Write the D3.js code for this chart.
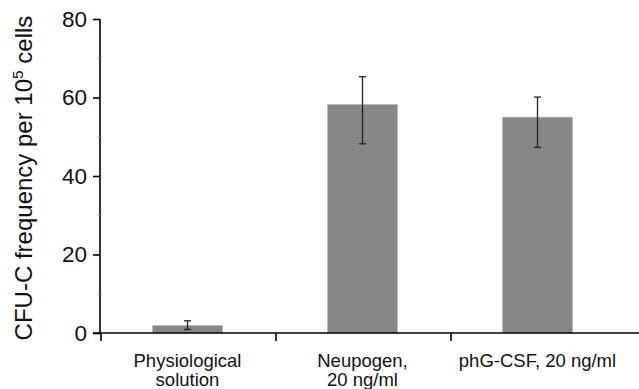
<!DOCTYPE html>
<html>
<head>
<meta charset="utf-8">
<script src="https://cdn.jsdelivr.net/npm/d3@7"></script>
<style>
  body { margin: 0; background: #fff; }
  text { font-family: "Liberation Sans", Arial, Helvetica, sans-serif; fill: #111; }
</style>
</head>
<body>
<div id="chart"></div>
<script>
// data
const categories = [["Physiological", "solution"], ["Neupogen,", "20 ng/ml"], ["phG-CSF, 20 ng/ml"]];
const means = [1.9, 58.2, 55.0];
const errHigh = [3.1, 65.3, 60.1];
const errLow = [0.9, 48.2, 47.3];
const yTicks = [0, 20, 40, 60, 80];
const yMinorTicks = [10, 30, 50, 70];

let width = 639;
let height = 389;
let margin = { top: 19, right: 14, bottom: 56, left: 100 };

let svg = d3.select("#chart").append("svg").attr("width", width).attr("height", height);

let idx = Array.from(Array(categories.length).keys());
let x = d3.scaleBand().domain(idx).range([margin.left, width - margin.right]).paddingInner(0.6).paddingOuter(0.3);
let band = d3.scaleBand().domain(idx).range([margin.left, width - margin.right]);
let y = d3.scaleLinear().domain([0, 80]).range([height - margin.bottom, margin.top]);

// bars
svg.selectAll(".bar")
  .data(means)
  .enter()
  .append("rect")
  .attr("class", "bar")
  .attr("x", (d, i) => x(i))
  .attr("width", x.bandwidth())
  .attr("y", (d) => y(d))
  .attr("height", (d) => y(0) - y(d))
  .attr("fill", "#878787")
  .attr("stroke", "#b5b5b5")
  .attr("stroke-width", 0.6);

// error bars
let eb = svg.append("g").attr("stroke", "#222").attr("stroke-width", 1.3);
idx.forEach((i) => {
  let cx = x(i) + x.bandwidth() / 2;
  eb.append("line").attr("x1", cx).attr("x2", cx).attr("y1", y(errHigh[i])).attr("y2", y(errLow[i]));
  [errHigh[i], errLow[i]].forEach((v) => {
    eb.append("line").attr("x1", cx - 3.5).attr("x2", cx + 3.5).attr("y1", y(v)).attr("y2", y(v));
  });
});

// y axis
let yAxis = d3.axisLeft(y).tickValues(yTicks).tickSize(7).tickPadding(6);
let gy = svg.append("g").attr("transform", "translate(" + margin.left + ",0)").call(yAxis);
gy.select(".domain").attr("stroke", "#000").attr("stroke-width", 1.6).attr("d", "M0," + y(0) + "V" + y(80));
gy.selectAll(".tick line").attr("stroke", "#000").attr("stroke-width", 1.6);
gy.selectAll(".tick text").style("font-size", "22.5px").style("font-family", "Liberation Sans, Arial, sans-serif").attr("fill", "#111");

// minor ticks
svg.append("g").selectAll("line")
  .data(yMinorTicks)
  .enter()
  .append("line")
  .attr("x1", margin.left - 2.5)
  .attr("x2", margin.left)
  .attr("y1", (d) => y(d))
  .attr("y2", (d) => y(d))
  .attr("stroke", "#999")
  .attr("stroke-width", 1);

// x axis
let xAxis = d3.axisBottom(band).tickValues([]).tickSize(0);
let gx = svg.append("g").attr("transform", "translate(0," + y(0) + ")").call(xAxis);
gx.select(".domain").attr("stroke", "#000").attr("stroke-width", 1.6).attr("d", "M" + (margin.left - 7) + ",0H" + width);
let boundaries = [0, 1, 2].map((i) => band(i));
gx.selectAll(".sep")
  .data(boundaries)
  .enter()
  .append("line")
  .attr("x1", (d) => d + 1)
  .attr("x2", (d) => d + 1)
  .attr("y1", 0)
  .attr("y2", 8)
  .attr("stroke", "#000")
  .attr("stroke-width", 1.6);

// category labels
let lab = svg.append("g");
categories.forEach((lines, i) => {
  let t = lab.append("text")
    .attr("text-anchor", "middle")
    .attr("x", x(i) + x.bandwidth() / 2)
    .attr("y", 367)
    .style("font-size", "18.5px");
  lines.forEach((s, k) => {
    t.append("tspan").attr("x", x(i) + x.bandwidth() / 2).attr("dy", k === 0 ? 0 : 19).text(s);
  });
});

// y title
let title = svg.append("text")
  .attr("text-anchor", "middle")
  .attr("transform", "translate(32," + ((y(0) + y(80)) / 2 + 2) + ") rotate(-90)")
  .style("font-size", "24px");
title.append("tspan").text("CFU-C frequency per 10");
title.append("tspan").attr("dy", -9).style("font-size", "15.5px").text("5");
title.append("tspan").attr("dy", 9).text(" cells");
</script>
</body>
</html>
